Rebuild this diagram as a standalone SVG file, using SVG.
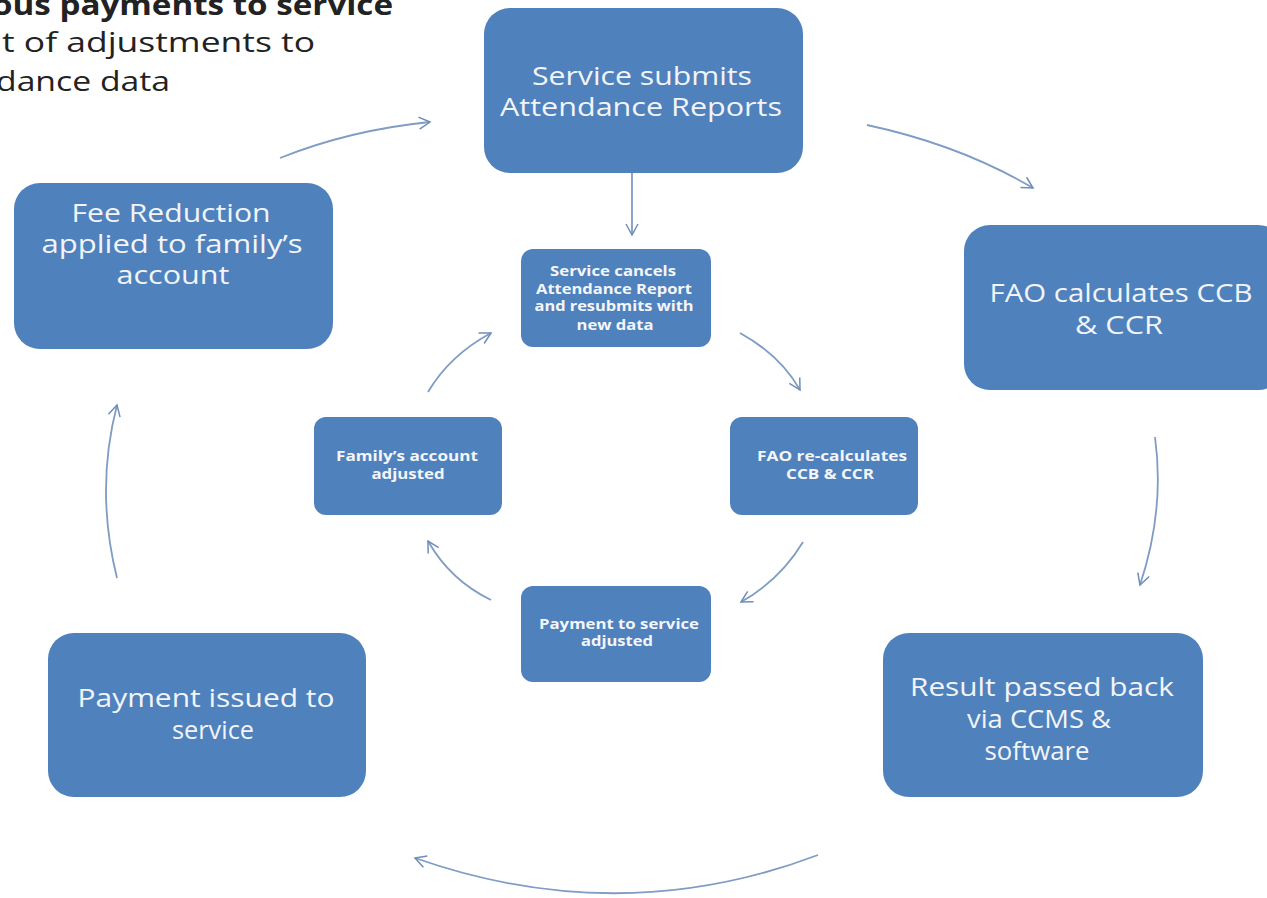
<svg xmlns="http://www.w3.org/2000/svg" width="1267" height="898" viewBox="0 0 1267 898">
<defs>
<marker id="ah" viewBox="0 0 14 14" refX="12" refY="7" markerWidth="14" markerHeight="14" markerUnits="userSpaceOnUse" orient="auto">
<path d="M1,1 L12,7 L1,13" fill="none" stroke="#6f8db8" stroke-width="1.5"/>
</marker>
<style>
.box{fill:#4f81bd;}
.big{font-family:"Open Sans","Liberation Sans",sans-serif;font-size:25px;font-weight:500;fill:#f2f4f8;text-anchor:middle;}
.small{font-family:"Open Sans","Liberation Sans",sans-serif;font-size:14px;font-weight:bold;fill:#f4f6fa;text-anchor:middle;}
.title{font-family:"Open Sans","Liberation Sans",sans-serif;font-size:28px;fill:#222;}
.conn{fill:none;stroke:#7f9cc3;stroke-width:1.8;marker-end:url(#ah);}
</style>
</defs>
<rect width="1267" height="898" fill="#ffffff"/>
<g id="title">
<text class="title" x="-8" y="15" font-weight="bold" textLength="401" lengthAdjust="spacingAndGlyphs">ous payments to service</text>
<text class="title" x="2" y="52" textLength="313" lengthAdjust="spacingAndGlyphs">t of adjustments to</text>
<text class="title" x="-4" y="91" textLength="174" lengthAdjust="spacingAndGlyphs">dance data</text>
</g>
<g id="connectors">
<path class="conn" d="M280,158 Q350,130 430,122"/>
<path class="conn" d="M867,125 Q960,145 1033,188"/>
<path class="conn" d="M1155,437 Q1165,510 1140,585"/>
<path class="conn" d="M818,855 Q620,930 415,858"/>
<path class="conn" d="M117,578 Q95,490 117,405"/>
<path class="conn" d="M632,173 L632,235"/>
<path class="conn" d="M428,392 Q450,355 491,333"/>
<path class="conn" d="M740,333 Q780,355 800,390"/>
<path class="conn" d="M803,542 Q780,580 741,602"/>
<path class="conn" d="M491,600 Q450,580 428,541"/>
</g>
<g id="n-submit">
<rect class="box" x="484" y="8" width="319" height="165" rx="26"/>
<text class="big" x="642" y="85" textLength="220" lengthAdjust="spacingAndGlyphs">Service submits</text>
<text class="big" x="641" y="116" textLength="282" lengthAdjust="spacingAndGlyphs">Attendance Reports</text>
</g>
<g id="n-fao">
<rect class="box" x="964" y="225" width="320" height="165" rx="26"/>
<text class="big" x="1121" y="302" textLength="263" lengthAdjust="spacingAndGlyphs">FAO calculates CCB</text>
<text class="big" x="1119" y="334" textLength="88" lengthAdjust="spacingAndGlyphs">&amp; CCR</text>
</g>
<g id="n-result">
<rect class="box" x="883" y="633" width="320" height="164" rx="26"/>
<text class="big" x="1042" y="696" textLength="264" lengthAdjust="spacingAndGlyphs">Result passed back</text>
<text class="big" x="1039" y="728" textLength="144" lengthAdjust="spacingAndGlyphs">via CCMS &amp;</text>
<text class="big" x="1037" y="760" textLength="105" lengthAdjust="spacingAndGlyphs">software</text>
</g>
<g id="n-payment">
<rect class="box" x="48" y="633" width="318" height="164" rx="26"/>
<text class="big" x="206" y="707" textLength="257" lengthAdjust="spacingAndGlyphs">Payment issued to</text>
<text class="big" x="213" y="739" textLength="82" lengthAdjust="spacingAndGlyphs">service</text>
</g>
<g id="n-fee">
<rect class="box" x="14" y="183" width="319" height="166" rx="26"/>
<text class="big" x="171" y="222" textLength="199" lengthAdjust="spacingAndGlyphs">Fee Reduction</text>
<text class="big" x="172" y="253" textLength="261" lengthAdjust="spacingAndGlyphs">applied to family’s</text>
<text class="big" x="173" y="284" textLength="113" lengthAdjust="spacingAndGlyphs">account</text>
</g>
<g id="n-cancel">
<rect class="box" x="521" y="249" width="190" height="98" rx="12"/>
<text class="small" x="613" y="276" textLength="126" lengthAdjust="spacingAndGlyphs">Service cancels</text>
<text class="small" x="614" y="294" textLength="156" lengthAdjust="spacingAndGlyphs">Attendance Report</text>
<text class="small" x="614" y="311" textLength="159" lengthAdjust="spacingAndGlyphs">and resubmits with</text>
<text class="small" x="615" y="330" textLength="77" lengthAdjust="spacingAndGlyphs">new data</text>
</g>
<g id="n-recalc">
<rect class="box" x="730" y="417" width="188" height="98" rx="12"/>
<text class="small" x="832" y="461" textLength="150" lengthAdjust="spacingAndGlyphs">FAO re-calculates</text>
<text class="small" x="830" y="479" textLength="88" lengthAdjust="spacingAndGlyphs">CCB &amp; CCR</text>
</g>
<g id="n-payadj">
<rect class="box" x="521" y="586" width="190" height="96" rx="12"/>
<text class="small" x="619" y="629" textLength="160" lengthAdjust="spacingAndGlyphs">Payment to service</text>
<text class="small" x="617" y="646" textLength="72" lengthAdjust="spacingAndGlyphs">adjusted</text>
</g>
<g id="n-family">
<rect class="box" x="314" y="417" width="188" height="98" rx="12"/>
<text class="small" x="407" y="461" textLength="142" lengthAdjust="spacingAndGlyphs">Family’s account</text>
<text class="small" x="408" y="479" textLength="73" lengthAdjust="spacingAndGlyphs">adjusted</text>
</g>
</svg>
